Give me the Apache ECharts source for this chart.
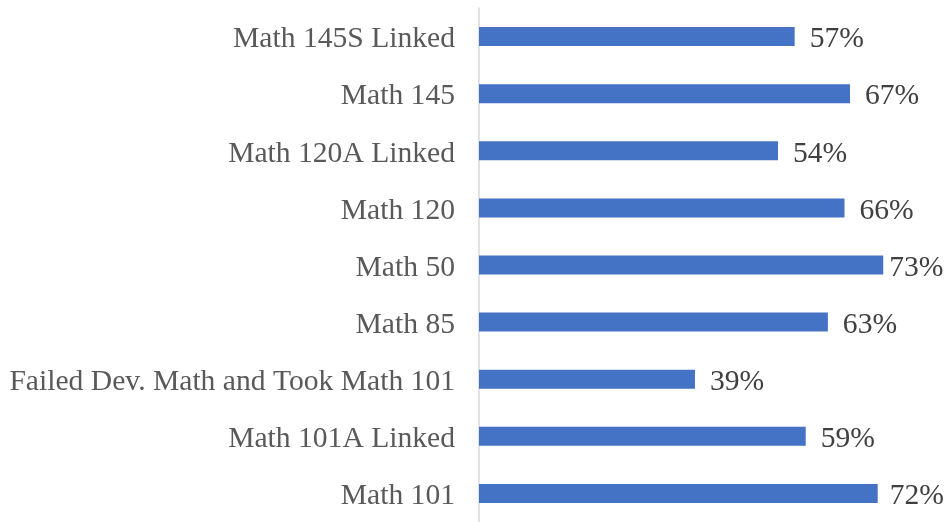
<!DOCTYPE html>
<html>
<head>
<meta charset="utf-8">
<script src="https://cdn.jsdelivr.net/npm/echarts@6/dist/echarts.min.js"></script>
<style>
  html, body { margin: 0; padding: 0; background: #fff; }
  #chart { width: 946px; height: 522px; }
</style>
</head>
<body>
<div id="chart"></div>
<script>
// categories listed bottom to top
const categories = [
  'Math 101',
  'Math 101A Linked',
  'Failed Dev. Math and Took Math 101',
  'Math 85',
  'Math 50',
  'Math 120',
  'Math 120A Linked',
  'Math 145',
  'Math 145S Linked'
]
const values = [72, 59, 39, 63, 73, 66, 54, 67, 57]

// labels of the longest bars get pushed in so they stay on the canvas
function labelDistance(v) {
  if (v >= 73) return 6
  if (v >= 72) return 12
  return 15
}

const chart = echarts.init(document.getElementById('chart'))
chart.setOption({
  animation: false,
  grid: { left: 479, right: 24, top: 8, height: 518 },
  xAxis: {
    type: 'value',
    min: 0,
    max: 80,
    show: false
  },
  yAxis: {
    type: 'category',
    data: categories,
    axisLine: { show: true, lineStyle: { color: '#d9d9d9', width: 1.5 } },
    axisTick: { show: false },
    axisLabel: {
      margin: 24,
      formatter: v => '{c|' + v + '}',
      rich: {
        c: {
          color: '#595959',
          fontFamily: 'Liberation Serif',
          fontSize: 29.6,
          padding: [6, 0, 0, 0]
        }
      }
    }
  },
  series: [{
    type: 'bar',
    data: values.map(v => ({ value: v, label: { distance: labelDistance(v) } })),
    barWidth: 19,
    itemStyle: { color: '#4472c4' },
    label: {
      show: true,
      position: 'right',
      formatter: '{c}%',
      color: '#404040',
      fontFamily: 'Liberation Serif',
      fontSize: 29.6,
      offset: [0, 3]
    }
  }]
})
</script>
</body>
</html>
